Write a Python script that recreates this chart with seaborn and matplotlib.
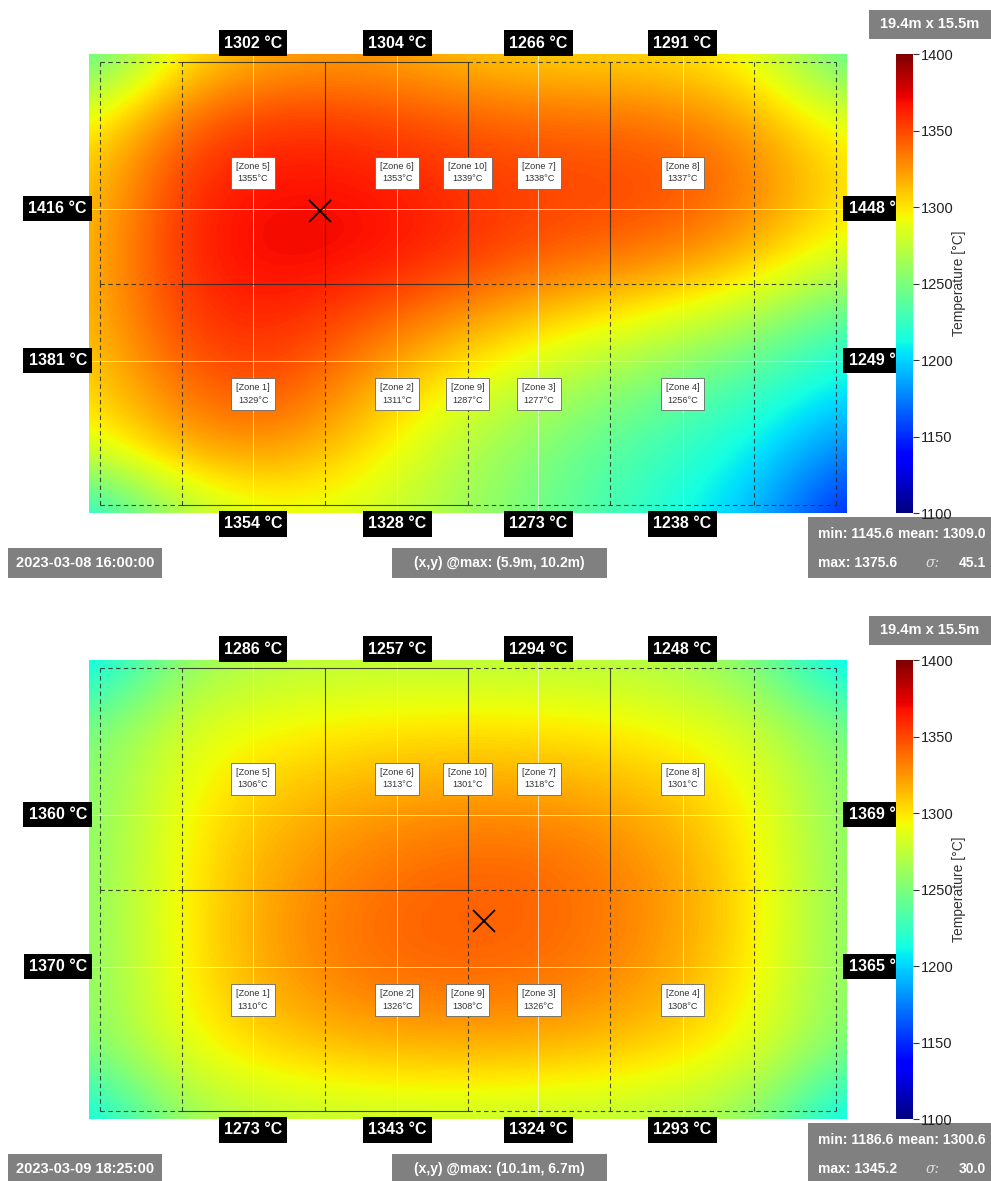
import numpy as np
import matplotlib
matplotlib.use("Agg")
import matplotlib.pyplot as plt
import seaborn as sns
from matplotlib.patches import Rectangle
from matplotlib import font_manager as fm

sns.set_theme(style="white")
_names = {f.name for f in fm.fontManager.ttflist}
NARROW = "Liberation Sans Narrow" if "Liberation Sans Narrow" in _names else "Liberation Sans"
plt.rcParams["font.family"] = [NARROW, "DejaVu Sans"]

# ---------------------------------------------------------------- data
ROOM_W, ROOM_H = 19.4, 15.5
VMIN, VMAX = 1100, 1400
cbar_ticks = [1100, 1150, 1200, 1250, 1300, 1350, 1400]

# coarse temperature samples (rows top->bottom, cols left->right)
field_1 = [
    [1225, 1300, 1318, 1322, 1308, 1302, 1302, 1290, 1228],
    [1290, 1342, 1356, 1352, 1344, 1340, 1337, 1322, 1285],
    [1305, 1360, 1369, 1366, 1356, 1350, 1352, 1336, 1300],
    [1310, 1362, 1374, 1371, 1358, 1345, 1338, 1318, 1285],
    [1310, 1357, 1362, 1345, 1325, 1305, 1290, 1270, 1232],
    [1302, 1342, 1352, 1320, 1290, 1268, 1250, 1230, 1205],
    [1285, 1322, 1328, 1300, 1268, 1248, 1228, 1210, 1175],
    [1205, 1268, 1288, 1282, 1262, 1240, 1218, 1195, 1140],
]
field_2 = [
    [1195, 1258, 1270, 1272, 1270, 1270, 1268, 1252, 1193],
    [1245, 1285, 1293, 1298, 1300, 1298, 1293, 1282, 1243],
    [1250, 1293, 1310, 1318, 1322, 1320, 1312, 1295, 1250],
    [1252, 1297, 1320, 1333, 1340, 1338, 1325, 1300, 1252],
    [1252, 1298, 1325, 1340, 1345, 1340, 1328, 1302, 1252],
    [1252, 1297, 1322, 1336, 1338, 1335, 1322, 1298, 1252],
    [1248, 1290, 1305, 1312, 1315, 1312, 1305, 1290, 1245],
    [1198, 1262, 1272, 1275, 1275, 1273, 1270, 1258, 1195],
]

# sensor grid (m) where wall readings sit
sensor_x = [4.20, 7.89, 11.50, 15.19]
sensor_y = [10.27, 5.14]

# zone boundaries (m)
zone_bx = [0.28, 2.37, 6.04, 9.70, 13.34, 17.03, 19.11]
zone_by = [0.26, 7.74, 15.23]

zone_top_names = ["Zone 5", "Zone 6", "Zone 10", "Zone 7", "Zone 8"]
zone_bot_names = ["Zone 1", "Zone 2", "Zone 9", "Zone 3", "Zone 4"]
zone_label_x = [4.20, 7.89, 9.69, 11.52, 15.19]
zone_label_y = [11.49, 4.02]

panels = [
    dict(field=field_1,
         top=[1302, 1304, 1266, 1291], bottom=[1354, 1328, 1273, 1238],
         left=[1416, 1381], right=["1448 °", "1249 °"],
         zones_top=[1355, 1353, 1339, 1338, 1337],
         zones_bot=[1329, 1311, 1287, 1277, 1256],
         tmin=1145.6, tmean=1309.0, tmax=1375.6, sigma=45.1,
         max_xy=(5.9, 10.2), stamp="2023-03-08 16:00:00"),
    dict(field=field_2,
         top=[1286, 1257, 1294, 1248], bottom=[1273, 1343, 1324, 1293],
         left=[1360, 1370], right=["1369 °", "1365 °"],
         zones_top=[1306, 1313, 1301, 1318, 1301],
         zones_bot=[1310, 1326, 1308, 1326, 1308],
         tmin=1186.6, tmean=1300.6, tmax=1345.2, sigma=30.0,
         max_xy=(10.1, 6.7), stamp="2023-03-09 18:25:00"),
]

# ---------------------------------------------------------------- layout
W, H = 991, 1181
fig = plt.figure(figsize=(W / 100, H / 100), dpi=100)
fig.patch.set_facecolor("white")


def fx(px):
    return px / W


def fy(py):
    return 1 - py / H


def gray_box(x0, y0, x1, y1):
    fig.patches.append(Rectangle((fx(x0), fy(y1)), (x1 - x0) / W, (y1 - y0) / H,
                                 transform=fig.transFigure, facecolor="#808080",
                                 edgecolor="none", zorder=1))


def wtext(x, y, s, ha="center", **kw):
    fig.text(fx(x), fy(y), s, ha=ha, va="center", color="white",
             fontweight="bold", fontsize=kw.pop("fontsize", 10.5), zorder=3, **kw)


cmap = plt.get_cmap("jet")
line_kw = dict(color="#2a2a2a", lw=0.8, alpha=0.85)
dash = (0, (4, 3))

for i, p in enumerate(panels):
    off = 606 * i
    top_px, bot_px = 54 + off, 513 + off
    ax = fig.add_axes([fx(89), fy(bot_px), (847 - 89) / W, (bot_px - top_px) / H])
    fld = np.array(p["field"], dtype=float)
    nr, nc = fld.shape
    dx = ROOM_W / (nc - 1)
    dy = ROOM_H / (nr - 1)
    im = ax.imshow(fld, cmap=cmap, vmin=VMIN, vmax=VMAX, origin="upper",
                   extent=(-dx / 2, ROOM_W + dx / 2, -dy / 2, ROOM_H + dy / 2),
                   interpolation="bicubic", aspect="auto")
    ax.set_xlim(0, ROOM_W)
    ax.set_ylim(0, ROOM_H)
    ax.axis("off")

    # light sensor grid
    for sx in sensor_x:
        ax.axvline(sx, color="white", lw=0.7, alpha=0.7)
    for sy in sensor_y:
        ax.axhline(sy, color="white", lw=0.7, alpha=0.7)

    # zone structure
    for yb in zone_by:
        ax.plot([zone_bx[0], zone_bx[1]], [yb, yb], ls=dash, **line_kw)
        ax.plot([zone_bx[1], zone_bx[3]], [yb, yb], ls="-", **line_kw)
        ax.plot([zone_bx[3], zone_bx[-1]], [yb, yb], ls=dash, **line_kw)
    solid_upper = {2, 3, 4}
    for k, xb in enumerate(zone_bx):
        ax.plot([xb, xb], [zone_by[1], zone_by[2]],
                ls="-" if k in solid_upper else dash, **line_kw)
        ax.plot([xb, xb], [zone_by[0], zone_by[1]], ls=dash, **line_kw)

    # zone labels
    for names, vals, zy in ((zone_top_names, p["zones_top"], zone_label_y[0]),
                            (zone_bot_names, p["zones_bot"], zone_label_y[1])):
        for n, v, zx in zip(names, vals, zone_label_x):
            ax.text(zx, zy, f"[{n}]\n{v}°C", ha="center", va="center", fontsize=6.6,
                    color="#333333", linespacing=1.5, zorder=5,
                    bbox=dict(boxstyle="square,pad=0.55", fc="white", ec="#666666", lw=0.6))

    # max marker
    ax.plot(*p["max_xy"], marker="x", ms=16, mew=1.3, color="black", zorder=6)

    # wall readings
    lab_kw = dict(color="white", fontweight="bold", fontsize=11.5, clip_on=False, zorder=7,
                  bbox=dict(boxstyle="square,pad=0.32", fc="black", ec="none"))
    for sx, v in zip(sensor_x, p["top"]):
        ax.text(sx, ROOM_H + 0.37, f"{v} °C", ha="center", va="center", **lab_kw)
    for sx, v in zip(sensor_x, p["bottom"]):
        ax.text(sx, -0.37, f"{v} °C", ha="center", va="center", **lab_kw)
    for sy, v in zip(sensor_y, p["left"]):
        ax.text(-0.80, sy, f"{v} °C", ha="center", va="center", **lab_kw)
    for sy, v in zip(sensor_y, p["right"]):
        ax.text(19.44, sy, v, ha="left", va="center", **lab_kw)

    # colorbar
    cax = fig.add_axes([fx(896), fy(bot_px), (913 - 896) / W, (bot_px - top_px) / H])
    cax.set_zorder(5)
    cb = fig.colorbar(im, cax=cax)
    cb.set_ticks(cbar_ticks)
    cb.outline.set_visible(False)
    cax.tick_params(labelsize=10.5, length=4, width=0.8, color="#333333",
                    labelcolor="#222222", pad=2, right=True)
    fig.text(fx(959), fy((top_px + bot_px) / 2), "Temperature [°C]", rotation=90,
             ha="center", va="center", fontsize=10, color="#333333")

    # info boxes
    gray_box(869, 10 + off, 991, 39 + off)
    wtext(930, 24.5 + off, f"{ROOM_W}m x {ROOM_H}m")

    gray_box(8, 548 + off, 162, 578 + off)
    wtext(85, 563 + off, p["stamp"])

    gray_box(392, 548 + off, 607, 578 + off)
    mx, my = p["max_xy"]
    wtext(499.5, 563 + off, f"(x,y) @max: ({mx}m, {my}m)", fontsize=10)

    gray_box(808, 517 + off, 991, 578 + off)
    wtext(818, 534 + off, f"min: {p['tmin']:.1f}", ha="left", fontsize=10)
    wtext(986, 534 + off, f"mean: {p['tmean']:.1f}", ha="right", fontsize=10)
    wtext(818, 563 + off, f"max: {p['tmax']:.1f}", ha="left", fontsize=10)
    fig.text(fx(926), fy(563 + off), "σ:", ha="left", va="center", color="#dddddd",
             fontstyle="italic", fontsize=10, zorder=3, family=["DejaVu Serif"])
    wtext(986, 563 + off, f"{p['sigma']:.1f}", ha="right", fontsize=10)

fig.savefig("out.png", dpi=100)
